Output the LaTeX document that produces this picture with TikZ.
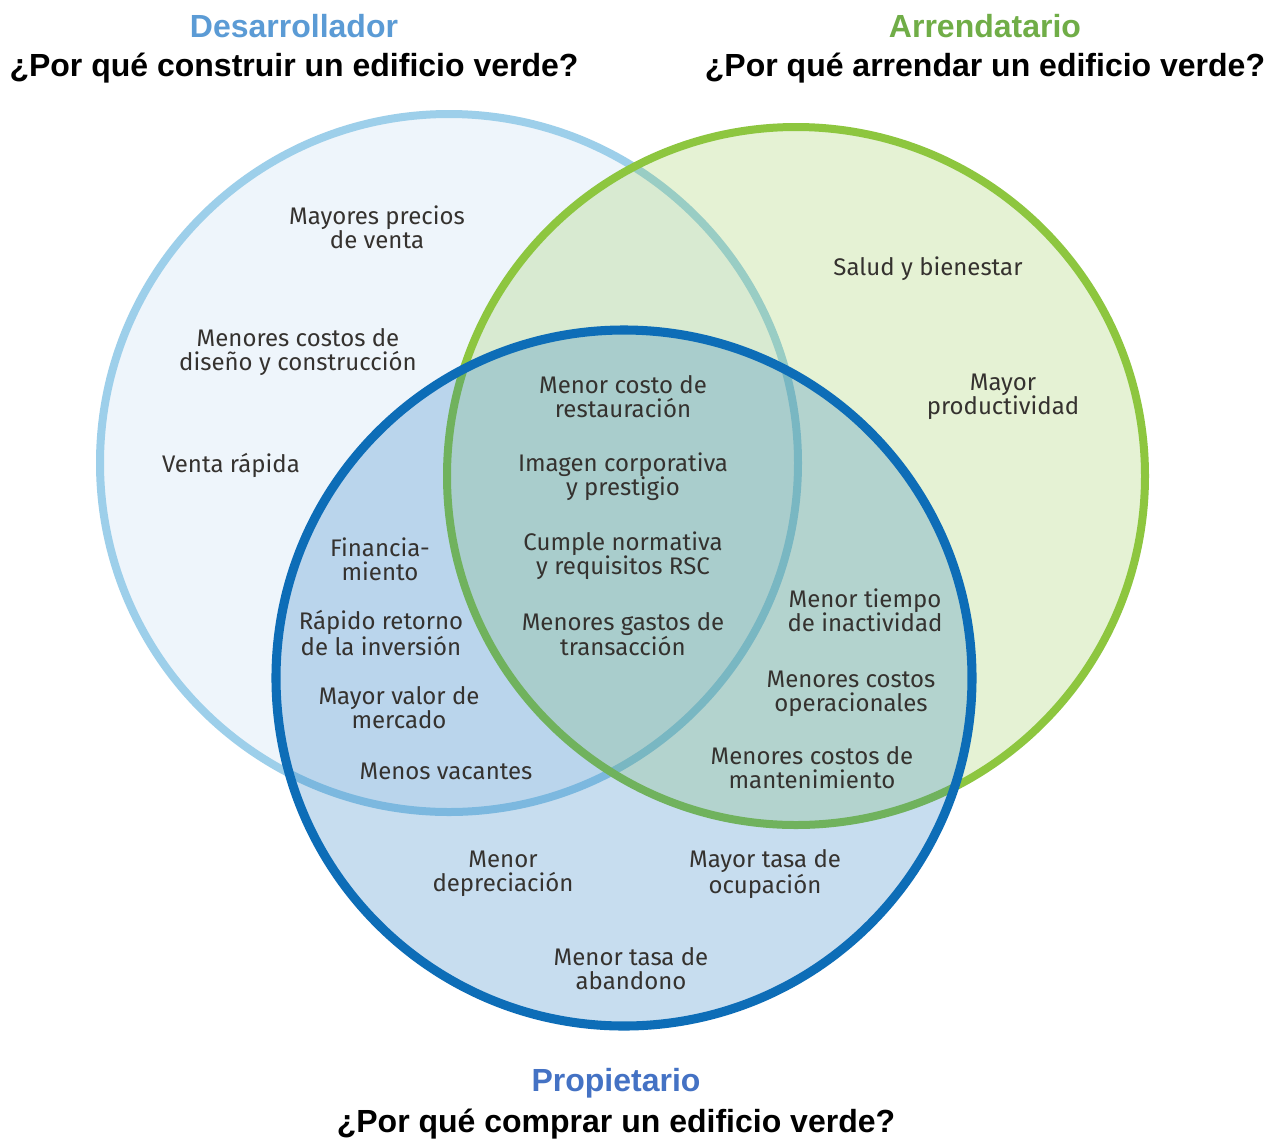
\documentclass[tikz,border=0pt]{standalone}
\usepackage{fontspec}
\setmainfont{Fira Sans}
\newfontfamily\headfont{Liberation Sans}
\definecolor{dline}{HTML}{9DCFEA}
\definecolor{dfill}{HTML}{EEF5FB}
\definecolor{gline}{HTML}{8DC63F}
\definecolor{pline}{HTML}{0D6DB7}
\definecolor{pfill}{HTML}{1773BE}
\definecolor{txt}{HTML}{35322F}
\definecolor{hdblue}{HTML}{5B9BD5}
\definecolor{hdgreen}{HTML}{70AD47}
\definecolor{hdprop}{HTML}{4472C4}
\tikzset{
  lbl/.style={align=center, text=txt, font=\fontsize{18}{18}\selectfont, inner sep=0pt},
  head/.style={font=\headfont\bfseries\fontsize{24}{26}\selectfont, inner sep=0pt},
  ring/.style={line width=6pt}
}
\begin{document}
\begin{tikzpicture}[x=0.75pt,y=-0.75pt]
\useasboundingbox[fill=white] (0,0) rectangle (1278,1140);
% Desarrollador circle
\fill[dfill] (449,463) circle[radius=261.75pt];
\draw[ring,dline] (449,463) circle[radius=261.75pt];
% Arrendatario circle
\fill[gline,fill opacity=0.22] (796,476) circle[radius=261.75pt];
\draw[ring,gline] (796,476) circle[radius=261.75pt];
% Propietario circle
\fill[pfill,fill opacity=0.24] (624,678) circle[radius=261pt];
\draw[ring,pline,line width=6.8pt] (624,678) circle[radius=261pt];

% headings
\node[head,text=hdblue] (hd) at (294,26) {Desarrollador};
\node[head] (qd) at (294,68) {¿Por qué construir un edificio verde?};
\node[head,text=hdgreen] (ha) at (985,26) {Arrendatario};
\node[head] (qa) at (985,68) {¿Por qué arrendar un edificio verde?};
\node[head,text=hdprop] (hp) at (616,1083) {Propietario};
\node[head] (qp) at (616,1124) {¿Por qué comprar un edificio verde?};

% Desarrollador only
\node[lbl] (t1) at (377,227) {Mayores precios\\de venta};
\node[lbl] (t2) at (298,352) {Menores costos de\\diseño y construcción};
\node[lbl] (t3) at (231,465) {Venta rápida};
% Arrendatario only
\node[lbl] (t4) at (928,269) {Salud y bienestar};
\node[lbl] (t5) at (1003,397) {Mayor\\productividad};
% center
\node[lbl] (t6) at (623,397) {Menor costo de\\restauración};
\node[lbl] (t7) at (623,477) {Imagen corporativa\\y prestigio};
\node[lbl] (t8) at (623,556) {Cumple normativa\\y requisitos RSC};
\node[lbl] (t9) at (623,634) {Menores gastos de\\transacción};
% D and P
\node[lbl] (t10) at (380,559) {Financia-\\miento};
\node[lbl] (t11) at (381,633) {Rápido retorno\\de la inversión};
\node[lbl] (t12) at (399,708) {Mayor valor de\\mercado};
\node[lbl] (t13) at (446,771) {Menos vacantes};
% G and P
\node[lbl] (t14) at (865,610) {Menor tiempo\\de inactividad};
\node[lbl] (t15) at (851,694) {Menores costos\\operacionales};
\node[lbl] (t16) at (812,768) {Menores costos de\\mantenimiento};
% P only
\node[lbl] (t17) at (503,874) {Menor\\depreciación};
\node[lbl] (t18) at (765,874) {Mayor tasa de\\ocupación};
\node[lbl] (t19) at (631,969) {Menor tasa de\\abandono};
\end{tikzpicture}
\end{document}
